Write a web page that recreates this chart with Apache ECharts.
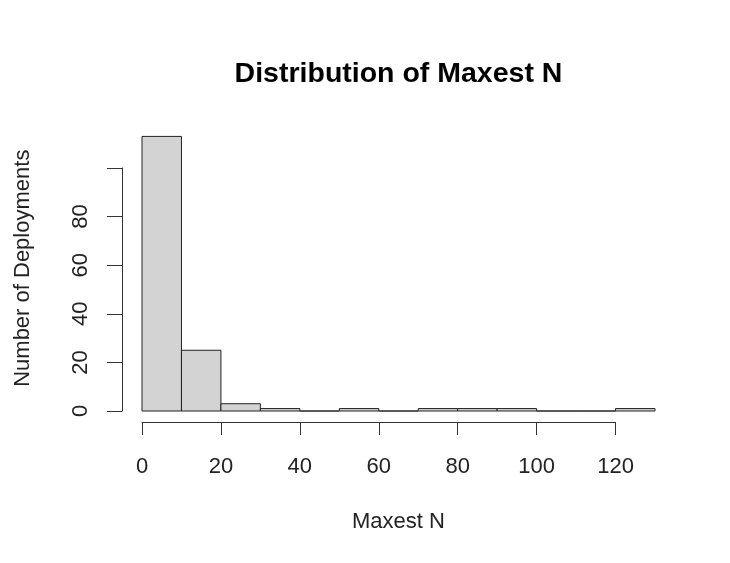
<!DOCTYPE html>
<html>
<head>
<meta charset="utf-8">
<script src="https://cdn.jsdelivr.net/npm/echarts@6/dist/echarts.min.js"></script>
<style>
  html, body { margin: 0; padding: 0; background: #ffffff; }
  #chart { width: 730px; height: 563px; }
</style>
</head>
<body>
<div id="chart"></div>
<script>
// Histogram bins of Maxest N (width 10) and their counts
const binStarts = [0, 10, 20, 30, 40, 50, 60, 70, 80, 90, 100, 110, 120];
const binWidth = 10;
const counts = [113, 25, 3, 1, 0, 1, 0, 1, 1, 1, 0, 0, 1];

// Axis ticks
const xTicks = [0, 20, 40, 60, 80, 100, 120];
const yTicks = [0, 20, 40, 60, 80, 100];
const yTickLabels = [0, 20, 40, 60, 80];

const titleText = 'Distribution of Maxest N';
const xName = 'Maxest N';
const yName = 'Number of Deployments';

const FONT = '"Liberation Sans", Arial, Helvetica, sans-serif';
const xMax = binStarts[binStarts.length - 1] + binWidth;   // 130
const axisMax = xTicks[xTicks.length - 1];                 // 120
const yAxisMax = yTicks[yTicks.length - 1];                // 100
const yPlotMax = Math.max.apply(null, counts) * 1.04;     // plot region head-room

const gridLeft = 142, gridBottom = 411, gridWidth = 513, gridHeight = 243;
const pxPerUnit = gridHeight / yAxisMax;
const plotHeight = yPlotMax * pxPerUnit;

const histData = binStarts.map((s, i) => [s, s + binWidth, counts[i]]);

const chart = echarts.init(document.getElementById('chart'), null, { renderer: 'canvas' });

const tickStyle = { color: '#333333', width: 1 };
const nameStyle = { fontFamily: FONT, fontSize: 22, color: '#222222' };
const hiddenParts = {
  axisLine: { show: false }, axisTick: { show: false },
  axisLabel: { show: false }, splitLine: { show: false }
};

chart.setOption({
  backgroundColor: '#ffffff',
  animation: false,
  title: {
    text: titleText,
    left: gridLeft + gridWidth / 2,
    textAlign: 'center',
    top: 60,
    padding: 0,
    textStyle: { fontFamily: FONT, fontWeight: 'bold', fontSize: 28.5, color: '#000000' }
  },
  grid: [
    // bars and y axis (0..100)
    { left: gridLeft, top: gridBottom - gridHeight, width: gridWidth, height: gridHeight },
    // x axis drawn over 0..120 only
    { left: gridLeft, top: gridBottom - gridHeight, width: gridWidth * axisMax / xMax, height: gridHeight },
    // full plot region, used to centre the axis titles
    { left: gridLeft, top: gridBottom - plotHeight, width: gridWidth, height: plotHeight }
  ],
  xAxis: [
    { type: 'value', gridIndex: 0, min: 0, max: xMax, show: false },
    {
      type: 'value', gridIndex: 1, min: 0, max: axisMax, interval: 20,
      position: 'bottom', offset: 11,
      axisLine: { show: true, onZero: false, lineStyle: tickStyle },
      axisTick: { show: true, inside: false, length: 13, lineStyle: tickStyle },
      axisLabel: { show: true, margin: 34, fontFamily: FONT, fontSize: 22, color: '#222222' },
      splitLine: { show: false }
    },
    Object.assign({
      type: 'value', gridIndex: 2, min: 0, max: xMax, position: 'bottom',
      name: xName, nameLocation: 'middle', nameGap: 100, nameTextStyle: nameStyle
    }, hiddenParts)
  ],
  yAxis: [
    {
      type: 'value', gridIndex: 0, min: 0, max: yAxisMax, interval: 20,
      position: 'left', offset: 20,
      axisLine: { show: true, onZero: false, lineStyle: tickStyle },
      axisTick: { show: true, inside: false, length: 15, lineStyle: tickStyle },
      axisLabel: {
        show: true, rotate: 90, margin: 30, fontFamily: FONT, fontSize: 22, color: '#222222',
        customValues: yTickLabels
      },
      splitLine: { show: false }
    },
    { type: 'value', gridIndex: 1, min: 0, max: yAxisMax, show: false },
    Object.assign({
      type: 'value', gridIndex: 2, min: 0, max: yPlotMax, position: 'left',
      name: yName, nameLocation: 'middle', nameGap: 108, nameRotate: 90, nameTextStyle: nameStyle
    }, hiddenParts)
  ],
  series: [{
    type: 'custom',
    xAxisIndex: 0,
    yAxisIndex: 0,
    clip: false,
    data: histData,
    encode: { x: [0, 1], y: 2 },
    renderItem: function (params, api) {
      const p0 = api.coord([api.value(0), api.value(2)]);
      const p1 = api.coord([api.value(1), 0]);
      return {
        type: 'rect',
        shape: { x: p0[0], y: p0[1], width: p1[0] - p0[0], height: p1[1] - p0[1] },
        style: { fill: '#d3d3d3', stroke: '#222222', lineWidth: 1 }
      };
    }
  }]
});
</script>
</body>
</html>
